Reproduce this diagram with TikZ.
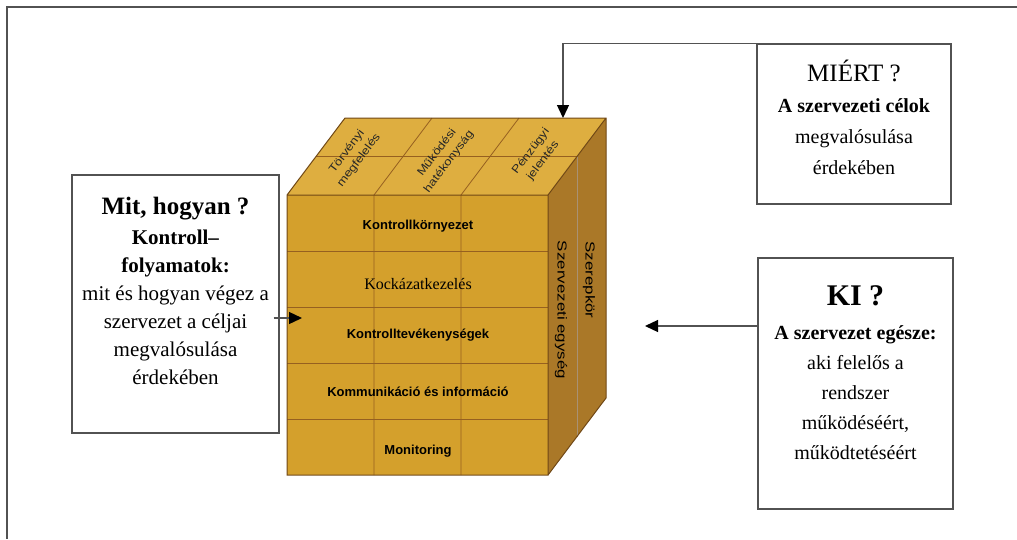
\documentclass[tikz,border=0pt]{standalone}
\usepackage{fontspec}
\setmainfont{Liberation Serif}
\setsansfont{Liberation Sans}
\usetikzlibrary{arrows.meta, positioning, calc}
\definecolor{cubefront}{RGB}{212,160,44}
\definecolor{cubetop}{RGB}{222,174,64}
\definecolor{cubeside}{RGB}{170,120,40}
\definecolor{cubegrid}{RGB}{150,96,32}
\definecolor{cubeedge}{RGB}{112,72,22}
\definecolor{framegray}{RGB}{82,82,82}

\begin{document}
\begin{tikzpicture}[x=1pt, y=-1pt,
    qbox/.style={draw=framegray, line width=1.3pt, fill=white, inner sep=0pt},
    qtext/.style={align=center, inner sep=0pt, font=\fontsize{20}{30}\selectfont},
    rowlabel/.style={font=\sffamily\bfseries\fontsize{13}{15}\selectfont, inner sep=0pt},
    toplabel/.style={font=\sffamily\fontsize{11}{15}\selectfont, align=center,
      inner sep=0pt, rotate=53, xscale=1.2, text=black!85},
    sidelabel/.style={font=\sffamily\fontsize{13}{15}\selectfont, inner sep=0pt,
      rotate=-90, xscale=1.3},
    arrow/.style={-{Triangle[length=13pt, width=12pt, color=black]},
      line width=1.3pt, draw=framegray},
]
\useasboundingbox (0,0) rectangle (1017,539);
\draw[framegray, line width=1.5pt] (1017,7) -- (7,7) -- (7,539);

% Cube
\coordinate (f1) at (287,195);
\coordinate (f2) at (548,195);
\coordinate (f3) at (548,475);
\coordinate (f4) at (287,475);
\coordinate (b1) at (345,118);
\coordinate (b2) at (606,118);
\coordinate (b3) at (606,398);
\fill[cubeside] (f2) -- (b2) -- (b3) -- (f3) -- cycle;
\fill[cubetop] (f1) -- (b1) -- (b2) -- (f2) -- cycle;
\fill[cubefront] (f1) rectangle (f3);
\foreach \y in {251,307,363,419}
  \draw[cubegrid, line width=0.8pt] (287,\y) -- (548,\y);
\foreach \x in {374,461}
  \draw[cubegrid, line width=0.8pt] (\x,475) -- (\x,195) -- ++(58,-77);
\draw[cubegrid, line width=0.8pt] (316,156.5) -- (577,156.5);
\draw[cubeedge!60, line width=0.6pt] (577,156.5) -- (577,436.5);
\draw[cubeedge, line width=1pt] (f1) rectangle (f3)
  (f1) -- (b1) -- (b2) -- (b3) -- (f3) (f2) -- (b2);

% Cube labels
\node[rowlabel] (kornyezet) at (418,226) {Kontrollkörnyezet};
\node[rowlabel, font=\fontsize{16}{18}\selectfont] (kockazat) at (418,284) {Kockázatkezelés};
\node[rowlabel] (tevekeny) at (418,335) {Kontrolltevékenységek};
\node[rowlabel] (kommunik) at (418,392) {Kommunikáció és információ};
\node[rowlabel] (monitor) at (418,451) {Monitoring};
\node[toplabel] (torveny) at (353,156) {Törvényi\\megfelelés};
\node[toplabel] (mukodes) at (443,157) {Működési\\hatékonyság};
\node[toplabel] (penzugy) at (537,156) {Pénzügyi\\jelentés};
\node[sidelabel] (szerep) at (589,280) {Szerepkör};
\node[sidelabel] (egyseg) at (561,310) {Szervezeti egység};

% Boxes
\node[qbox, minimum width=207pt, minimum height=258pt] (mitbox) at (175.5,304) {};
\node[qtext, font=\fontsize{21}{28}\selectfont, below=23pt of mitbox.north] (mittext)
  {{\fontsize{25}{28}\selectfont\bfseries Mit, hogyan ?}\\[2pt]
   \textbf{Kontroll–}\\
   \textbf{folyamatok:}\\
   mit és hogyan végez a\\
   szervezet a céljai\\
   megvalósulása\\
   érdekében};
\node[qbox, minimum width=194pt, minimum height=160pt] (miertbox) at (854,124) {};
\node[qtext, font=\fontsize{20}{31}\selectfont, below=16pt of miertbox.north] (mierttext)
  {{\fontsize{25}{28}\selectfont MIÉRT ?}\\
   \textbf{A szervezeti célok}\\
   megvalósulása\\
   érdekében};
\node[qbox, minimum width=195pt, minimum height=251pt] (kibox) at (855.5,383.5) {};
\node[qtext, below=28pt of kibox.north] (kitext)
  {{\fontsize{30}{32}\selectfont\bfseries KI ?}\\[4pt]
   \textbf{A szervezet egésze:}\\
   aki felelős a\\
   rendszer\\
   működéséért,\\
   működtetéséért};

% Arrows
\coordinate (miertin) at (563,118);
\coordinate (mitin) at (302,318);
\coordinate (kiin) at (645,326);
\draw[arrow] (miertbox.north west) -| (miertin);
\draw[arrow] ($(mitbox.east |- mitin)+(-6,0)$) -- (mitin);
\draw[arrow] (kibox.west |- kiin) -- (kiin);
\end{tikzpicture}
\end{document}
